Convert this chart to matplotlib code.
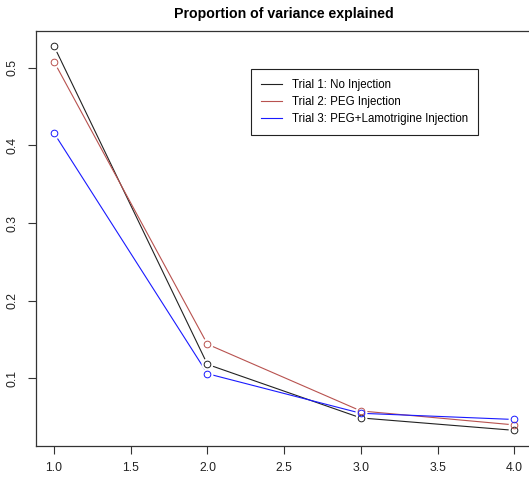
import numpy as np
import matplotlib.pyplot as plt
from matplotlib.lines import Line2D

plt.rcParams['font.family'] = ['Liberation Sans', 'DejaVu Sans']

components = [1, 2, 3, 4]
trial1 = [0.528, 0.118, 0.049, 0.033]
trial2 = [0.508, 0.144, 0.058, 0.040]
trial3 = [0.416, 0.106, 0.055, 0.047]
labels = ["Trial 1: No Injection", "Trial 2: PEG Injection",
          "Trial 3: PEG+Lamotrigine Injection"]
colors = ["#222222", "#b8524f", "#1a1aff"]

fig = plt.figure(figsize=(5.29, 4.84), dpi=100)
ax = fig.add_axes([0.0673, 0.0791, 0.9397, 0.8573])

# type="b" style: lines broken around each open circle
for ys, c in zip([trial1, trial2, trial3], colors):
    ax.plot(components, ys, color=c, lw=0.8, zorder=2)
    ax.plot(components, ys, ls='none', marker='o', ms=8.5, mfc='white',
            mec='none', zorder=3)
    ax.plot(components, ys, ls='none', marker='o', ms=4.8, mfc='none',
            mec=c, mew=0.7, zorder=4)

allv = np.concatenate([trial1, trial2, trial3])
pad = 0.04 * (allv.max() - allv.min())
ax.set_ylim(allv.min() - pad, allv.max() + pad)
ax.set_xlim(1 - 0.04 * 3, 4 + 0.04 * 3)

ax.set_xticks([1.0, 1.5, 2.0, 2.5, 3.0, 3.5, 4.0])
ax.set_xticklabels(["1.0", "1.5", "2.0", "2.5", "3.0", "3.5", "4.0"])
ax.set_yticks([0.1, 0.2, 0.3, 0.4, 0.5])
ax.set_yticklabels(["0.1", "0.2", "0.3", "0.4", "0.5"], rotation=90, va='center')
ax.tick_params(axis='both', direction='out', length=6, width=0.8,
               color='#333333', labelsize=8.8, labelcolor='#222222')
ax.tick_params(axis='x', pad=6)
ax.tick_params(axis='y', pad=6)
for s in ax.spines.values():
    s.set_linewidth(0.9)
    s.set_color('#333333')

ax.set_title("Proportion of variance explained", fontsize=10.2,
             fontweight='bold', pad=9)

handles = [Line2D([], [], color=c, lw=0.8) for c in colors]
leg = ax.legend(handles, labels, loc='upper left',
                bbox_to_anchor=(0.433, 0.908), fontsize=8.3, frameon=True,
                fancybox=False, framealpha=1, edgecolor='#222222',
                borderpad=0.9, handlelength=1.8, handletextpad=0.85,
                labelspacing=0.4, borderaxespad=0)
leg.get_frame().set_linewidth(0.8)

fig.savefig("out.png", dpi=100)
